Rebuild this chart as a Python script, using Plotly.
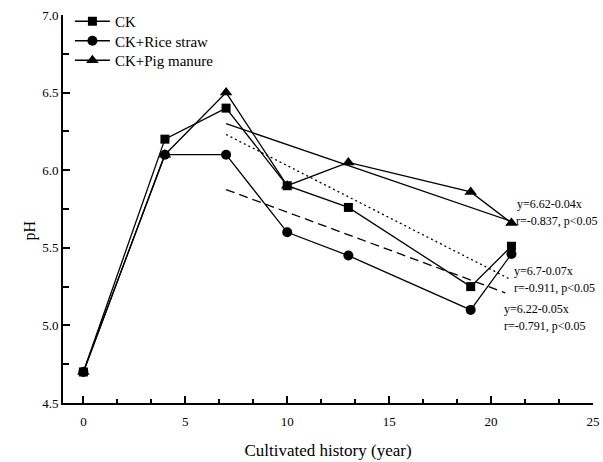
import plotly.graph_objects as go

# ---- data ----
years = [0, 4, 7, 10, 13, 19, 21]
ph_ck = [4.70, 6.20, 6.40, 5.90, 5.76, 5.25, 5.51]
ph_rice = [4.70, 6.10, 6.10, 5.60, 5.45, 5.10, 5.46]
ph_pig = [4.70, 6.10, 6.50, 5.90, 6.05, 5.86, 5.66]

# regression line end points (as drawn)
reg_pig_x = [7, 21]
reg_pig_y = [6.30, 5.67]
reg_ck_x = [7, 20.9]
reg_ck_y = [6.23, 5.30]
reg_rice_x = [7, 20.7]
reg_rice_y = [5.875, 5.21]

eq_texts = [
    ("y=6.62-0.04x", 521, 204),
    ("r=-0.837, p<0.05", 520, 221),
    ("y=6.7-0.07x", 518, 271),
    ("r=-0.911, p<0.05", 518, 288),
    ("y=6.22-0.05x", 508, 309),
    ("r=-0.791, p<0.05", 508, 326),
]

FONT = "Liberation Serif"
W, H = 603, 462
ML, MR, MT, MB = 63, 3, 15, 59
pw = W - ML - MR
ph = H - MT - MB


def px2x(px):
    return (px - ML) / pw


def py2y(py):
    return 1 - (py - MT) / ph


fig = go.Figure()
line_style = dict(color="black", width=1.3)
fig.add_trace(go.Scatter(x=years, y=ph_ck, name="CK", mode="lines+markers", legend="legend",
                         line=line_style, marker=dict(symbol="square", size=9, color="black")))
fig.add_trace(go.Scatter(x=years, y=ph_rice, name="CK+Rice straw", mode="lines+markers",
                         legend="legend2",
                         line=line_style, marker=dict(symbol="circle", size=10, color="black")))
fig.add_trace(go.Scatter(x=years, y=ph_pig, name="CK+Pig manure", mode="lines+markers",
                         legend="legend3",
                         line=line_style, marker=dict(symbol="triangle-up", size=11, color="black")))

fig.add_trace(go.Scatter(x=reg_pig_x, y=reg_pig_y, mode="lines", showlegend=False,
                         line=dict(color="black", width=1.3)))
fig.add_trace(go.Scatter(x=reg_ck_x, y=reg_ck_y, mode="lines", showlegend=False,
                         line=dict(color="black", width=1.3, dash="2px,3px")))
fig.add_trace(go.Scatter(x=reg_rice_x, y=reg_rice_y, mode="lines", showlegend=False,
                         line=dict(color="black", width=1.3, dash="9px,5px")))

annotations = []
for txt, px, py in eq_texts:
    annotations.append(dict(text=txt, xref="paper", yref="paper",
                            x=px2x(px), y=py2y(py),
                            xanchor="left", yanchor="middle", showarrow=False,
                            font=dict(family=FONT, size=12, color="black")))
annotations.append(dict(text="pH", xref="paper", yref="paper",
                        x=px2x(30), y=py2y(230), textangle=-90,
                        xanchor="center", yanchor="middle", showarrow=False,
                        font=dict(family=FONT, size=16, color="black")))


def leg(py):
    return dict(x=px2x(70), y=py2y(py), xanchor="left", yanchor="middle",
                bgcolor="rgba(0,0,0,0)", font=dict(family=FONT, size=15, color="black"),
                itemwidth=35, borderwidth=0)


fig.update_layout(
    width=W, height=H,
    margin=dict(l=ML, r=MR, t=MT, b=MB),
    paper_bgcolor="white", plot_bgcolor="white",
    font=dict(family=FONT, size=12, color="black"),
    showlegend=True,
    legend=leg(21.5), legend2=leg(41), legend3=leg(60.5),
    annotations=annotations,
    xaxis=dict(range=[-1, 25], tick0=0, dtick=5, ticks="inside", ticklen=7, tickwidth=1.5,
               tickcolor="black", showline=True, linecolor="black", linewidth=2,
               showgrid=False, zeroline=False, ticklabeloverflow="allow",
               ticklabelstandoff=5,
               tickfont=dict(family=FONT, size=13),
               minor=dict(tick0=0, dtick=5 / 3, ticks="inside", ticklen=4, tickwidth=1.5,
                          tickcolor="black", showgrid=False),
               title=dict(text="Cultivated history (year)", standoff=17,
                          font=dict(family=FONT, size=17))),
    yaxis=dict(range=[4.5, 7.0], tick0=4.5, dtick=0.5, ticks="inside", ticklen=7, tickwidth=1.5,
               tickcolor="black", showline=True, linecolor="black", linewidth=2,
               showgrid=False, zeroline=False, tickformat=".1f",
               tickfont=dict(family=FONT, size=13),
               minor=dict(dtick=0.25, ticks="inside", ticklen=6, tickwidth=1.5,
                          tickcolor="black", showgrid=False)),
)

fig.write_html("out.html", config={"displayModeBar": False},
               post_script="document.body.style.margin='0';")
